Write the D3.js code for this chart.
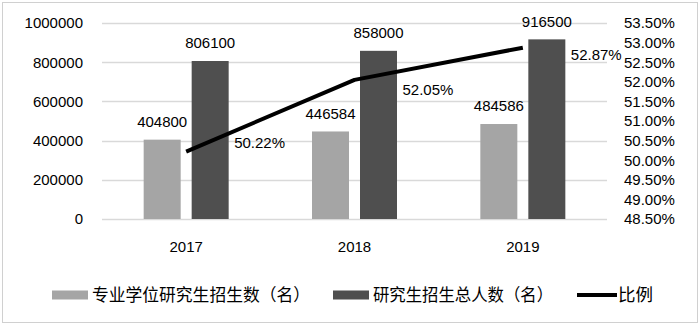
<!DOCTYPE html>
<html>
<head>
<meta charset="utf-8">
<script src="https://cdn.jsdelivr.net/npm/d3@7"></script>
<style>
  body { margin: 0; background: #fff; }
  svg text { font-family: "Liberation Sans", Arial, sans-serif; font-size: 15px; fill: #000; }
  svg text.cjk { font-family: "Noto Sans CJK SC", sans-serif; font-size: 17px; }
</style>
</head>
<body>
<svg id="chart" width="700" height="326"></svg>
<script>
var years = ["2017", "2018", "2019"];
var proCounts = [404800, 446584, 484586];
var totalCounts = [806100, 858000, 916500];
var ratios = [50.22, 52.05, 52.87];
var leftTicks = [0, 200000, 400000, 600000, 800000, 1000000];
var rightTicks = [48.5, 49, 49.5, 50, 50.5, 51, 51.5, 52, 52.5, 53, 53.5];
var seriesNames = ["专业学位研究生招生数（名）", "研究生招生总人数（名）", "比例"];

var plot = {left: 102, right: 607, top: 23, bottom: 219};
var colors = {pro: "#a5a5a5", total: "#4f4f4f", grid: "#d9d9d9"};
// vertical nudge of the ratio labels, as placed in the original
var ratioLabelDy = [-9, 10, 7];

var svg = d3.select("#chart");

svg.append("rect")
    .attr("x", 2.5).attr("y", 2.5)
    .attr("width", 695).attr("height", 320)
    .attr("fill", "#fff")
    .attr("stroke", "#d0d0d0");

var xScale = d3.scaleBand()
    .domain(years)
    .range([plot.left, plot.right]);
var subScale = d3.scaleBand()
    .domain(["pro", "total"])
    .range([-42.5, 42.5])
    .paddingInner(11 / 48);
var yLeft = d3.scaleLinear().domain([0, 1000000]).range([plot.bottom, plot.top]);
var yRight = d3.scaleLinear().domain([48.5, 53.5]).range([plot.bottom, plot.top]);

// gridlines
svg.append("g")
    .selectAll("line")
    .data(leftTicks)
    .enter().append("line")
        .attr("x1", plot.left).attr("x2", plot.right)
        .attr("y1", function(d) { return Math.round(yLeft(d)) + 0.5; })
        .attr("y2", function(d) { return Math.round(yLeft(d)) + 0.5; })
        .attr("stroke", colors.grid)
        .attr("stroke-width", 1.5);

// left axis
var leftAxis = svg.append("g")
    .attr("transform", "translate(" + (plot.left - 19) + ",0)")
    .call(d3.axisLeft(yLeft).tickValues(leftTicks).tickSize(0).tickPadding(0)
        .tickFormat(d3.format("d")));
leftAxis.select(".domain").remove();
leftAxis.selectAll("text").attr("font-size", 15).attr("font-family", null);

// right axis
var rightAxis = svg.append("g")
    .attr("transform", "translate(624,0)")
    .call(d3.axisRight(yRight).tickValues(rightTicks).tickSize(0).tickPadding(0)
        .tickFormat(function(d) { return d.toFixed(2) + "%"; }));
rightAxis.select(".domain").remove();
rightAxis.selectAll("text").attr("font-size", 15).attr("font-family", null);

// x labels
svg.append("g")
    .selectAll("text")
    .data(years)
    .enter().append("text")
        .attr("x", function(d) { return xScale(d) + xScale.bandwidth() / 2; })
        .attr("y", 247)
        .attr("dy", "0.35em")
        .attr("text-anchor", "middle")
        .text(function(d) { return d; });

// bars
var barData = [];
years.forEach(function(y, i) {
  barData.push({year: y, key: "pro", value: proCounts[i]});
  barData.push({year: y, key: "total", value: totalCounts[i]});
});

var bar = svg.append("g")
    .selectAll("g.bar")
    .data(barData)
    .enter().append("g")
        .attr("class", "bar")
        .attr("transform", function(d) {
            return "translate(" + (xScale(d.year) + xScale.bandwidth() / 2 + subScale(d.key)) + ",0)"; });

bar.append("rect")
    .attr("width", subScale.bandwidth())
    .attr("y", function(d) { return yLeft(d.value); })
    .attr("height", function(d) { return yLeft(0) - yLeft(d.value); })
    .attr("fill", function(d) { return colors[d.key]; });

bar.append("text")
    .attr("x", subScale.bandwidth() / 2)
    .attr("y", function(d) { return yLeft(d.value) - 18; })
    .attr("dy", "0.35em")
    .attr("text-anchor", "middle")
    .text(function(d) { return d.value; });

// ratio line
var lineData = years.map(function(y, i) { return {year: y, value: ratios[i], i: i}; });
var line = d3.line()
    .x(function(d) { return xScale(d.year) + xScale.bandwidth() / 2; })
    .y(function(d) { return yRight(d.value); });

svg.append("path")
    .datum(lineData)
    .attr("d", line)
    .attr("fill", "none")
    .attr("stroke", "#000")
    .attr("stroke-width", 4)
    .attr("stroke-linejoin", "round");

svg.append("g")
    .selectAll("text")
    .data(lineData)
    .enter().append("text")
        .attr("x", function(d) { return xScale(d.year) + xScale.bandwidth() / 2 + 48; })
        .attr("y", function(d) { return yRight(d.value) + ratioLabelDy[d.i]; })
        .attr("dy", "0.35em")
        .text(function(d) { return d.value.toFixed(2) + "%"; });

// legend
var legendY = 295;
var legendItems = [
  {name: seriesNames[0], type: "rect", color: colors.pro, x: 52, tx: 92, w: 218},
  {name: seriesNames[1], type: "rect", color: colors.total, x: 333, tx: 373, w: 180},
  {name: seriesNames[2], type: "line", color: "#000", x: 577, tx: 618, w: 35}
];
var legend = svg.append("g")
    .selectAll("g.legend")
    .data(legendItems)
    .enter().append("g")
        .attr("class", "legend");

legend.filter(function(d) { return d.type === "rect"; })
    .append("rect")
        .attr("x", function(d) { return d.x; })
        .attr("y", legendY - 4.5)
        .attr("width", 36)
        .attr("height", 9)
        .attr("fill", function(d) { return d.color; });

legend.filter(function(d) { return d.type === "line"; })
    .append("line")
        .attr("x1", function(d) { return d.x; })
        .attr("x2", function(d) { return d.x + 40; })
        .attr("y1", legendY)
        .attr("y2", legendY)
        .attr("stroke", "#000")
        .attr("stroke-width", 4);

legend.append("text")
    .attr("class", "cjk")
    .attr("x", function(d) { return d.tx; })
    .attr("y", legendY)
    .attr("dy", "0.35em")
    .attr("textLength", function(d) { return d.w; })
    .attr("lengthAdjust", "spacingAndGlyphs")
    .text(function(d) { return d.name; });
</script>
</body>
</html>
